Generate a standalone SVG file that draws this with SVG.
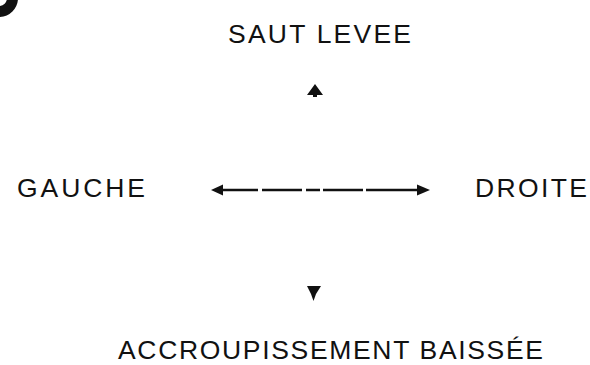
<svg xmlns="http://www.w3.org/2000/svg" width="590" height="365" viewBox="0 0 590 365">
<style>
.lbl{font-family:"Liberation Sans",Arial,Helvetica,sans-serif;font-size:26.5px;fill:#111;}
.ln{stroke:#111;stroke-width:2.6;fill:none;}
.ah{fill:#111;}
</style>
<rect width="590" height="365" fill="#fff"/>
<g id="corner-mark">
<circle cx="-1" cy="-2" r="13.5" fill="none" stroke="#111" stroke-width="11"/>
</g>
<g id="node-saut">
<text class="lbl" x="228" y="43" textLength="183" lengthAdjust="spacing">SAUT LEVEE</text>
</g>
<g id="node-gauche">
<text class="lbl" x="17" y="197" textLength="128" lengthAdjust="spacing">GAUCHE</text>
</g>
<g id="node-droite">
<text class="lbl" x="475" y="197" textLength="112" lengthAdjust="spacing">DROITE</text>
</g>
<g id="node-accroupissement">
<text class="lbl" x="118" y="359" textLength="425" lengthAdjust="spacing">ACCROUPISSEMENT BAISSÉE</text>
</g>
<g id="connectors">
<path class="ln" d="M220 190H258M262 190H302M306 190H320M323 190H363M366 190H420"/>
<path class="ah" d="M211 190L223 184.5L223 195.5Z"/>
<path class="ah" d="M430 190L417 184.5L417 195.5Z"/>
<path class="ah" d="M315 84L323 95L317 95L317 97L313 97L313 95L307 95Z"/>
<path class="ah" d="M307 286L321 286L316 294L313.5 301L311 294Z"/>
</g>
</svg>
